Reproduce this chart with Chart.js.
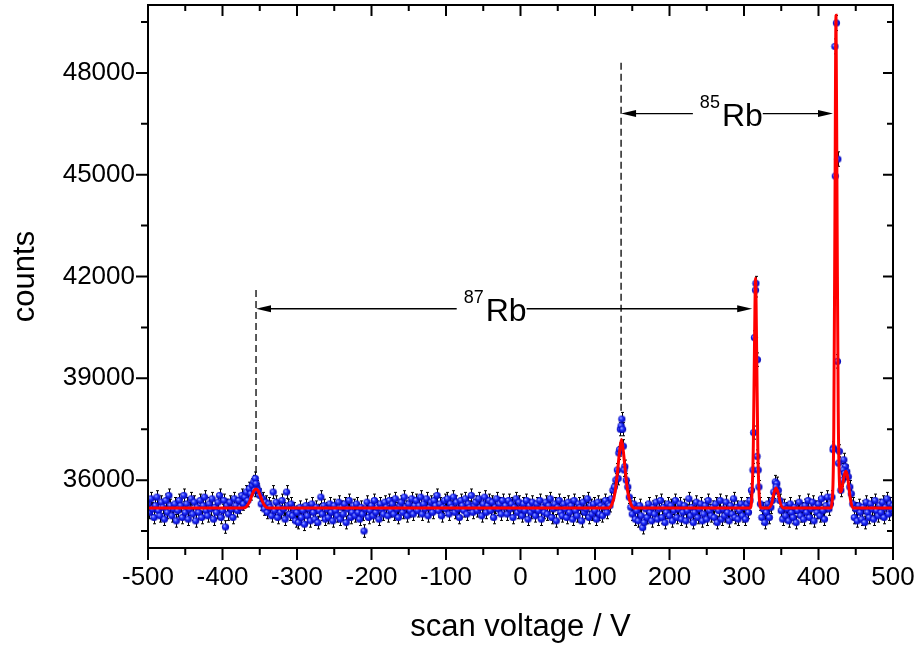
<!DOCTYPE html>
<html>
<head>
<meta charset="utf-8">
<script src="https://cdn.jsdelivr.net/npm/chart.js@4.4.1/dist/chart.umd.min.js"></script>
<style>
  html, body { margin: 0; padding: 0; background: #fff; }
  canvas { display: block; }
</style>
</head>
<body>
<canvas id="chart" width="918" height="650"></canvas>
<script>
// measured counts on a 2 V grid starting at -500 V
const scanStart = -500;
const scanStep = 2;
const scanCounts = [
  35300, 35050, 35450, 35150, 34900, 35250, 35500, 35100, 34950, 35350, 35200, 34850, 35400, 35050, 35550, 35250, 34950, 35150, 35300, 34800,
  35100, 35400, 35250, 34900, 35550, 35050, 35300, 34850, 35150, 35450, 35000, 35350, 34800, 35200, 35050, 35400, 34900, 35250, 35500, 35100,
  34950, 35300, 35150, 35450, 34850, 35200, 35050, 35350, 35550, 34900, 35100, 35400, 34620, 35250, 35000, 35350, 35150, 34900, 35450, 35250,
  35100, 35400, 35200, 35550, 35300, 35500, 35650, 35400, 35750, 35600, 35850, 35950, 36050, 35800, 35700, 35550, 35300, 35450, 35150, 35350,
  35050, 35300, 35200, 34950, 35650, 35100, 35350, 34900, 35200, 35050, 35400, 35150, 34850, 35650, 35250, 35000, 35300, 34950, 35150, 34800,
  35050, 34750, 35200, 34900, 35100, 34700, 35250, 34950, 35150, 34800, 35300, 35050, 34850, 35200, 34750, 35100, 35500, 35000, 35250, 34850,
  35150, 34900, 35300, 35050, 34800, 35250, 35100, 34950, 35350, 34850, 35200, 35000, 35300, 34750, 35150, 35400, 34900, 35050, 35250, 34950,
  35300, 35050, 34850, 35200, 35000, 34500, 35150, 35350, 34900, 35100, 35250, 34950, 35400, 35050, 35200, 34850, 35300, 35150, 35000, 35350,
  35200, 34950, 35400, 35100, 35300, 35000, 35450, 35150, 34900, 35250, 35350, 35050, 35500, 35200, 34950, 35300, 35100, 35450, 35000, 35250,
  35400, 35100, 35250, 35500, 35000, 35300, 35150, 35450, 34950, 35200, 35350, 35050, 35400, 35250, 35550, 35100, 35300, 34950, 35200, 35400,
  35150, 35450, 35000, 35300, 35200, 35500, 35050, 35350, 35150, 34900, 35400, 35250, 35100, 35450, 35000, 35300, 35200, 35550, 35050, 35250,
  35350, 35100, 35450, 35200, 34950, 35300, 35500, 35050, 35250, 35400, 35100, 35350, 34900, 35200, 35450, 35150, 35300, 35000, 35400, 35200,
  35250, 35000, 35400, 35150, 35300, 34900, 35200, 35450, 35050, 35350, 35150, 34950, 35300, 35100, 35400, 34850, 35250, 35050, 35350, 35150,
  34950, 35300, 35100, 35400, 34850, 35200, 35050, 35350, 35000, 35250, 35450, 34900, 35150, 35300, 34800, 35200, 35400, 35050, 34950, 35300,
  35150, 34900, 35350, 35050, 35250, 34850, 35400, 35100, 34950, 35300, 35200, 34800, 35350, 35050, 35150, 35450, 34900, 35250, 35000, 35300,
  35100, 34850, 35350, 35000, 35250, 34950, 35200, 35400, 35050, 35300, 35250, 35450, 35700, 35800, 36000, 36300, 36800, 37500, 37800, 37000,
  36400, 36000, 35800, 35500, 35200, 35000, 35300, 34850, 35100, 34800, 35250, 34950, 34600, 34750, 35150, 34900, 35300, 35050, 34800, 35200,
  35000, 35350, 34850, 35150, 35400, 34900, 35200, 34750, 35050, 35300, 34950, 35250, 34800, 35100, 35400, 34900, 35150, 35300, 34850, 35050,
  35250, 34800, 35100, 35450, 34950, 35200, 34750, 35050, 35350, 34900, 35150, 35300, 34800, 35000, 35250, 34850, 35400, 35100, 34950, 35200,
  34900, 35300, 34750, 35100, 35400, 34850, 35150, 34950, 35350, 35050, 34800, 35250, 35000, 35450, 34900, 35200, 34850, 35100, 35300, 34950,
  35200, 34850, 35300, 35050, 35400, 35700, 36300, 40200, 41800, 39550, 35800, 35300, 34900, 35150, 34750, 35050, 35300, 34900, 35200, 35400,
  35650, 35950, 35900, 35700, 35400, 35100, 34850, 35250, 34950, 35150, 34800, 35300, 35050, 34900, 35200, 34750, 35100, 35350, 34950, 35150,
  34850, 35250, 35050, 35400, 34900, 35150, 35350, 34800, 35200, 35050, 35300, 34950, 35450, 35100, 34850, 35250, 35500, 35150, 35300, 35500,
  36950, 48780, 49470, 45460, 36850, 35700, 36000, 36600, 36400, 36250, 36100, 35800, 35600, 35300, 34900, 35150, 34800, 35250, 35050, 34850,
  35200, 34750, 35350, 35050, 34900, 35300, 35150, 34850, 35400, 35100, 34950, 35250, 35050, 35350, 34900, 35200, 35450, 35000, 35300, 35150,
  35250
];

// extra points recorded on the peak flanks
const peakVolts = [-357, -355, 131, 133, 135, 137, 139, 313, 315.5, 317.5, 319, 343,
  419.5, 422.5, 425.5, 427, 433, 435];
const peakCounts = [35700, 35900, 36050, 36900, 37600, 37500, 36300, 37400, 41600, 36700, 36300, 35800,
  36900, 44960, 39500, 36500, 36300, 36200];

// fit curve
const fitVolts = [-500, -372, -367, -363, -360, -357, -355, -353, -350, -347, -343, -338,
  118, 123, 127, 130, 133, 135.5, 138, 141, 144, 148, 153,
  308, 310.5, 312.5, 314, 315.5, 317, 318.5, 320.5, 323,
  333, 337, 340, 343, 346, 349, 353,
  416, 419, 420.5, 422, 423.5, 425, 426.5, 428, 429.5, 431, 433, 435, 437, 439, 441, 443, 446, 500];
const fitCounts = [35180, 35180, 35240, 35400, 35580, 35710, 35740, 35710, 35580, 35400, 35240, 35180,
  35180, 35300, 35650, 36200, 36850, 37200, 36850, 36200, 35650, 35300, 35180,
  35180, 35500, 37000, 39800, 41950, 39800, 37000, 35500, 35180,
  35180, 35300, 35600, 35770, 35600, 35300, 35180,
  35180, 35600, 37500, 43500, 49700, 43500, 38000, 36000, 35650, 35700, 35950, 36180, 36260, 36100, 35750, 35420, 35180, 35180];

const xTicks = [-500, -400, -300, -200, -100, 0, 100, 200, 300, 400, 500];
const xMinorTicks = [-450, -350, -250, -150, -50, 50, 150, 250, 350, 450];
const yTicks = [36000, 39000, 42000, 45000, 48000];
const yMinorTicks = [34500, 37500, 40500, 43500, 46500, 49500];

// annotation lines (volts / counts)
const markerVolts = [-355, 135];
const markerFrom = [36150, 38000];
const markerTo = [41600, 48300];
const spanIsotopes = ['87', '85'];
const spanFrom = [-355, 135];
const spanTo = [311, 419.5];
const spanLevel = [41050, 46800];
const spanLabelAt = [-34, 283];

const FONT = '"Liberation Sans", Arial, sans-serif';

const points = scanCounts.map((c, i) => ({ x: scanStart + i * scanStep, y: c }))
  .concat(peakVolts.map((v, i) => ({ x: v, y: peakCounts[i] })));
const fit = fitVolts.map((v, i) => ({ x: v, y: fitCounts[i] }));

function ball(r) {
  const c = document.createElement('canvas');
  const s = Math.ceil(r * 2) + 1;
  c.width = c.height = s;
  const g = c.getContext('2d');
  const m = s / 2;
  const grad = g.createRadialGradient(m - r * 0.35, m - r * 0.35, r * 0.1, m, m, r);
  grad.addColorStop(0, '#a0a8ff');
  grad.addColorStop(0.4, '#2233ff');
  grad.addColorStop(1, '#0000b0');
  g.fillStyle = grad;
  g.beginPath();
  g.arc(m, m, r, 0, Math.PI * 2);
  g.fill();
  return c;
}

const errorBars = {
  id: 'errorBars',
  beforeDatasetsDraw(chart) {
    const { ctx, chartArea, scales: { x, y } } = chart;
    ctx.save();
    ctx.beginPath();
    ctx.rect(chartArea.left, chartArea.top, chartArea.right - chartArea.left, chartArea.bottom - chartArea.top);
    ctx.clip();
    ctx.strokeStyle = '#000';
    ctx.lineWidth = 1;
    ctx.beginPath();
    points.forEach(p => {
      const e = Math.sqrt(p.y);
      const px = Math.round(x.getPixelForValue(p.x)) + 0.5;
      const top = y.getPixelForValue(p.y + e);
      const bot = y.getPixelForValue(p.y - e);
      ctx.moveTo(px, top); ctx.lineTo(px, bot);
      ctx.moveTo(px - 1.5, top); ctx.lineTo(px + 1.5, top);
      ctx.moveTo(px - 1.5, bot); ctx.lineTo(px + 1.5, bot);
    });
    ctx.stroke();
    ctx.restore();
  }
};

function arrowHead(ctx, x, y, dir) {
  ctx.beginPath();
  ctx.moveTo(x, y);
  ctx.lineTo(x - dir * 15, y - 3.5);
  ctx.lineTo(x - dir * 15, y + 3.5);
  ctx.closePath();
  ctx.fill();
}

const annotations = {
  id: 'annotations',
  afterDatasetsDraw(chart) {
    const { ctx, scales: { x, y } } = chart;
    ctx.save();
    ctx.strokeStyle = '#000';
    ctx.fillStyle = '#000';
    ctx.lineWidth = 1.3;
    ctx.setLineDash([7, 4]);
    markerVolts.forEach((v, i) => {
      const px = x.getPixelForValue(v);
      ctx.beginPath();
      ctx.moveTo(px, y.getPixelForValue(markerTo[i]));
      ctx.lineTo(px, y.getPixelForValue(markerFrom[i]));
      ctx.stroke();
    });
    ctx.setLineDash([]);
    spanIsotopes.forEach((iso, i) => {
      const x0 = x.getPixelForValue(spanFrom[i]);
      const x1 = x.getPixelForValue(spanTo[i]);
      const ly = y.getPixelForValue(spanLevel[i]);
      const cx = x.getPixelForValue(spanLabelAt[i]);
      ctx.font = '18px ' + FONT;
      const supW = ctx.measureText(iso).width;
      ctx.font = '32px ' + FONT;
      const rbW = ctx.measureText('Rb').width;
      const total = supW + 2 + rbW;
      const left = cx - total / 2;
      ctx.beginPath();
      ctx.moveTo(x0 + 10, ly); ctx.lineTo(left - 7, ly);
      ctx.moveTo(left + total, ly); ctx.lineTo(x1 - 10, ly);
      ctx.stroke();
      arrowHead(ctx, x0, ly, -1);
      arrowHead(ctx, x1, ly, 1);
      ctx.textBaseline = 'alphabetic';
      ctx.textAlign = 'left';
      ctx.font = '18px ' + FONT;
      ctx.fillText(iso, left, ly - 6);
      ctx.font = '32px ' + FONT;
      ctx.fillText('Rb', left + supW + 2, ly + 12.5);
    });
    ctx.restore();
  }
};

const frame = {
  id: 'frame',
  afterDraw(chart) {
    const { ctx, chartArea: a, scales: { x, y } } = chart;
    ctx.save();
    ctx.strokeStyle = '#000';
    ctx.lineWidth = 2;
    ctx.beginPath();
    xTicks.forEach(v => {
      const px = x.getPixelForValue(v);
      ctx.moveTo(px, a.bottom); ctx.lineTo(px, a.bottom + 12);
      ctx.moveTo(px, a.top); ctx.lineTo(px, a.top + 11);
    });
    xMinorTicks.forEach(v => {
      const px = x.getPixelForValue(v);
      ctx.moveTo(px, a.bottom); ctx.lineTo(px, a.bottom + 7);
      ctx.moveTo(px, a.top); ctx.lineTo(px, a.top + 6);
    });
    yTicks.forEach(v => {
      const py = y.getPixelForValue(v);
      ctx.moveTo(a.left, py); ctx.lineTo(a.left - 12, py);
      ctx.moveTo(a.right, py); ctx.lineTo(a.right - 10, py);
    });
    yMinorTicks.forEach(v => {
      const py = y.getPixelForValue(v);
      ctx.moveTo(a.left, py); ctx.lineTo(a.left - 7, py);
      ctx.moveTo(a.right, py); ctx.lineTo(a.right - 6, py);
    });
    ctx.stroke();
    ctx.strokeRect(a.left, a.top, a.right - a.left, a.bottom - a.top);
    ctx.restore();
  }
};

function noPadding(s) {
  s.paddingTop = 0; s.paddingBottom = 0; s.paddingLeft = 0; s.paddingRight = 0;
}

new Chart(document.getElementById('chart'), {
  type: 'scatter',
  data: {
    datasets: [
      {
        type: 'line',
        data: fit,
        borderColor: '#ff0000',
        borderWidth: 3,
        pointRadius: 0,
        fill: false,
        cubicInterpolationMode: 'monotone'
      },
      {
        data: points,
        pointStyle: ball(3.6),
        pointRadius: 4,
        showLine: false
      }
    ]
  },
  options: {
    responsive: false,
    animation: false,
    devicePixelRatio: 1,
    layout: { padding: { top: 4, right: 25, left: 0, bottom: 0 } },
    plugins: { legend: { display: false }, tooltip: { enabled: false } },
    scales: {
      x: {
        type: 'linear',
        min: -500,
        max: 500,
        afterBuildTicks: s => { s.ticks = xTicks.map(v => ({ value: v })); },
        afterFit: s => { s.height = 102; noPadding(s); },
        grid: { display: false, drawTicks: false },
        border: { display: false },
        ticks: { color: '#000', font: { family: FONT, size: 26 }, padding: 14, maxRotation: 0, callback: v => String(v) },
        title: { display: true, text: 'scan voltage / V', color: '#000', font: { family: FONT, size: 31 }, padding: { top: 0, bottom: 4 } }
      },
      y: {
        min: 34000,
        max: 50000,
        afterBuildTicks: s => { s.ticks = yTicks.map(v => ({ value: v })); },
        afterFit: s => { s.width = 148; noPadding(s); },
        grid: { display: false, drawTicks: false },
        border: { display: false },
        ticks: { color: '#000', font: { family: FONT, size: 26 }, padding: 13, callback: v => String(v) },
        title: { display: true, text: 'counts', color: '#000', font: { family: FONT, size: 31 }, padding: { top: 7, bottom: 0 } }
      }
    }
  },
  plugins: [errorBars, annotations, frame]
});
</script>
</body>
</html>
